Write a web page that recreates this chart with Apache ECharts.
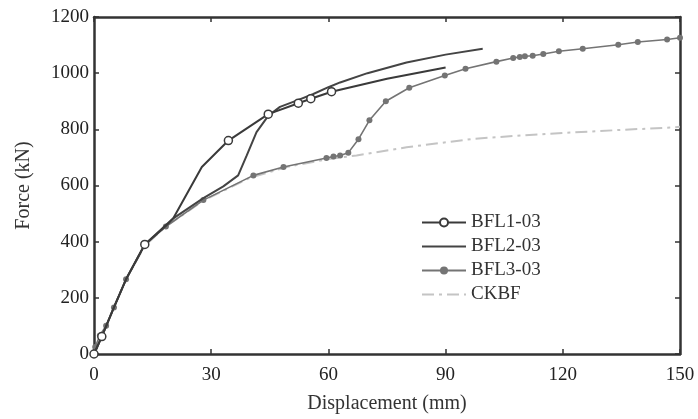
<!DOCTYPE html>
<html><head><meta charset="utf-8">
<script src="https://cdn.jsdelivr.net/npm/echarts@6/dist/echarts.min.js"></script>
<style>html,body{margin:0;padding:0;background:#fff}#c{width:698px;height:419px}</style>
</head><body><div id="c"></div>
<script>
const xTicks = [0, 30, 60, 90, 120, 150];
const yTicks = [0, 200, 400, 600, 800, 1000, 1200];
const seriesNames = ['BFL1-03', 'BFL2-03', 'BFL3-03', 'CKBF'];

const bfl1 = [[0,0],[2,62],[5.1,166],[8.2,266],[13,390],[20.3,483],[27.6,666],[34.4,760],[44.6,854],[52.3,893],[55.5,909],[60.8,934],[75,980],[90,1020]];
const bfl1Marked = [0, 2, 13, 34.4, 44.6, 52.3, 55.5, 60.8];

const bfl2 = [[0,0],[2,62],[5.1,166],[8.2,266],[13,390],[18.4,456],[20.3,483],[28,555],[33.1,597],[36.9,636],[39.1,707],[41.6,790],[44.6,848],[47.6,880],[52,903],[56,925],[60,950],[63,967],[70,1000],[80,1038],[90,1066],[99.5,1087]];

const bfl3 = [[0,0],[0.3,25],[1.5,66],[3.1,101],[5.1,166],[8.2,266],[12.9,387],[18.4,454],[28,548],[40.8,636],[48.5,666],[59.5,698],[61.3,703],[63,707],[65.1,717],[67.7,765],[70.5,832],[74.7,900],[80.7,948],[89.8,992],[95.1,1016],[103,1041],[107.3,1054],[109,1058],[110.3,1060],[112.3,1062],[115,1068],[119,1078],[125.1,1087],[134.2,1101],[139.2,1111],[146.7,1120],[150,1126]];

const ckbf = [[0,0],[2,62],[5.1,166],[8.2,266],[13,385],[18.4,454],[28,546],[40,628],[50,668],[60,694],[67.2,707],[80,736],[97.1,766],[110,779],[122.7,789],[135,798],[148.3,807],[150,809]];

const font = 'Liberation Serif';
const axisCol = '#333';
const chart = echarts.init(document.getElementById('c'));
const mkAxis = (show, extra) => Object.assign({
  type: 'value',
  axisLine: { show: true, onZero: false, lineStyle: { color: axisCol, width: 2.5 } },
  axisTick: { show: true, inside: true, length: 5, lineStyle: { color: axisCol, width: 1.5 } },
  axisLabel: { show: show, color: '#222', fontFamily: font, fontSize: 19 },
  splitLine: { show: false }
}, extra);
const hideIcon = { color: 'rgba(0,0,0,0)', borderColor: 'rgba(0,0,0,0)', borderWidth: 0 };

chart.setOption({
  animation: false,
  backgroundColor: '#fff',
  grid: { left: 94, right: 18, top: 17, bottom: 62 },
  legend: {
    orient: 'vertical', left: 416, top: 208, itemWidth: 44, itemHeight: 10, itemGap: 5,
    data: [
      { name: seriesNames[0] },
      { name: seriesNames[1], itemStyle: hideIcon },
      { name: seriesNames[2] },
      { name: seriesNames[3], itemStyle: hideIcon }
    ],
    textStyle: { fontFamily: font, fontSize: 19, color: '#333' }
  },
  xAxis: [
    mkAxis(true, { min: 0, max: 150, interval: 30, position: 'bottom',
      name: 'Displacement (mm)', nameLocation: 'middle', nameGap: 40,
      nameTextStyle: { fontFamily: font, fontSize: 20, color: '#333' },
      axisLabel: { show: true, color: '#222', fontFamily: font, fontSize: 19, margin: 12,
        formatter: v => String(v) } }),
    mkAxis(false, { min: 0, max: 150, interval: 30, position: 'top' })
  ],
  yAxis: [
    mkAxis(true, { min: 0, max: 1200, interval: 200, position: 'left',
      name: 'Force (kN)', nameLocation: 'middle', nameGap: 60,
      nameTextStyle: { fontFamily: font, fontSize: 20, color: '#333' },
      axisLabel: { show: true, color: '#222', fontFamily: font, fontSize: 19, margin: 5,
        formatter: v => String(v) } }),
    mkAxis(false, { min: 0, max: 1200, interval: 200, position: 'right' })
  ],
  series: [
    { name: seriesNames[3], type: 'line', data: ckbf, showSymbol: false, symbol: 'none', z: 1,
      itemStyle: { color: '#c4c4c4' },
      lineStyle: { color: '#c4c4c4', width: 2, type: [12, 5, 3, 5] } },
    { name: seriesNames[2], type: 'line', data: bfl3, symbol: 'circle', symbolSize: 6, z: 2,
      itemStyle: { color: '#747474' }, lineStyle: { color: '#747474', width: 1.6 } },
    { name: seriesNames[1], type: 'line', data: bfl2, showSymbol: false, symbol: 'none', z: 3,
      itemStyle: { color: '#444' }, lineStyle: { color: '#444', width: 2 } },
    { name: seriesNames[0], type: 'line', data: bfl1, symbol: 'circle', z: 4,
      symbolSize: (v) => bfl1Marked.indexOf(v[0]) >= 0 ? 8 : 0,
      itemStyle: { color: '#fff', borderColor: '#3a3a3a', borderWidth: 1.5 },
      lineStyle: { color: '#3a3a3a', width: 2 } }
  ]
});
</script></body></html>
